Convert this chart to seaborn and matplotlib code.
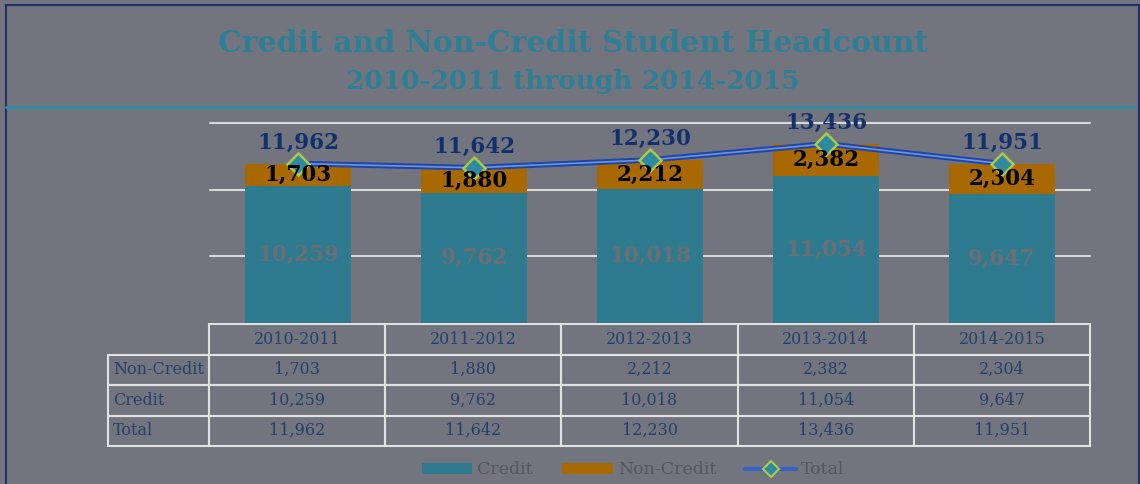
import matplotlib
matplotlib.use("Agg")
import matplotlib.pyplot as plt
import seaborn as sns
import pandas as pd
from matplotlib.patches import Rectangle, Patch
from matplotlib.lines import Line2D

years = ["2010-2011", "2011-2012", "2012-2013", "2013-2014", "2014-2015"]
non_credit = [1703, 1880, 2212, 2382, 2304]
credit = [10259, 9762, 10018, 11054, 9647]
total = [11962, 11642, 12230, 13436, 11951]
row_labels = ["Non-Credit", "Credit", "Total"]
title = "Credit and Non-Credit Student Headcount"
subtitle = "2010-2011 through 2014-2015"

BG = "#72757d"
TEAL = "#2e7b90"
ORANGE = "#a86a00"
NAVY = "#13306e"
TABLE_TXT = "#26406b"
GRID = "#d9d9d9"
SERIF = "DejaVu Serif"

sns.set_theme(style="white")
plt.rcParams["font.family"] = [SERIF, "DejaVu Sans"]

W, H = 1140, 484
fig = plt.figure(figsize=(W / 100, H / 100), dpi=100, facecolor=BG)

def fx(px):
    return px / W

def fy(py):
    return 1 - py / H

# axes: x 210..1090, y 123..323
ax = fig.add_axes([fx(210), fy(323), fx(880), (323 - 123) / H])
ax.set_facecolor(BG)

df = pd.DataFrame({"year": years, "credit": credit, "non_credit": non_credit, "total": total})

sns.barplot(data=df, x="year", y="credit", color=TEAL, width=0.6, saturation=1,
            ax=ax, zorder=2, edgecolor="none")
sns.barplot(data=df, x="year", y="non_credit", bottom=df["credit"], color=ORANGE, width=0.6,
            saturation=1, ax=ax, zorder=2, edgecolor="none")
xs = list(range(len(years)))
sns.lineplot(x=xs, y=total, ax=ax, color="#1d46a8", lw=4, zorder=4, sort=False)
sns.lineplot(x=xs, y=total, ax=ax, color="#6f93dc", lw=1.2, zorder=5, sort=False,
             marker="D", markersize=11, markerfacecolor="#2e8aa0",
             markeredgecolor="#a9c94a", markeredgewidth=1.8)

ax.set_ylim(0, 15000)
ax.set_xlim(-0.5, 4.5)
for v in (5000, 10000, 15000):
    ax.axhline(v, color=GRID, lw=1.5, zorder=1, clip_on=False)
for s in ax.spines.values():
    s.set_visible(False)
ax.set_xticks([])
ax.set_yticks([])
ax.set_xlabel("")
ax.set_ylabel("")

lab = dict(fontsize=15.5, fontweight="bold", ha="center", va="center", family=SERIF)
for i in xs:
    ax.text(i, credit[i] / 2, f"{credit[i]:,}", color="#6b6e75", zorder=6, **lab)
    ax.text(i, credit[i] + non_credit[i] / 2, f"{non_credit[i]:,}", color="black", zorder=6, **lab)
    ax.annotate(f"{total[i]:,}", (i, total[i]), xytext=(0, 15), textcoords="offset points",
                color=NAVY, zorder=6, **lab)

# data table
cell_text = [[""] + years]
for name, vals in zip(row_labels, [non_credit, credit, total]):
    cell_text.append([name] + [f"{v:,}" for v in vals])
tx0 = (108 - 210) / 880
tw = (1090 - 108) / 880
ty_top = (323 - 324) / 200
ty_bot = (323 - 446) / 200
col_w = [101] + [176] * 5
tbl = ax.table(cellText=cell_text, colWidths=[c / sum(col_w) for c in col_w],
               bbox=[tx0, ty_bot, tw, ty_top - ty_bot], cellLoc="center")
tbl.auto_set_font_size(False)
for (r, c), cell in tbl.get_celld().items():
    cell.set_facecolor("none")
    cell.set_edgecolor("#e2e2e2")
    cell.set_linewidth(1.5)
    t = cell.get_text()
    t.set_color(TABLE_TXT)
    t.set_fontsize(11.5)
    t.set_family(SERIF)
    if c == 0:
        t.set_ha("left")
        cell.PAD = 0.05
    if r == 0 and c == 0:
        cell.visible_edges = ""

# titles
fig.text(fx(573), fy(43), title, ha="center", va="center", fontsize=21.5,
         fontweight="bold", color="#2e7f95", family=SERIF)
fig.text(fx(573), fy(82), subtitle, ha="center", va="center", fontsize=19,
         fontweight="bold", color="#2e7f95", family=SERIF)

# header rule and border
fig.add_artist(Line2D([fx(6), fx(1134)], [fy(107), fy(107)], color="#2f8ca3", lw=2.2))
fig.add_artist(Rectangle((fx(6), fy(600)), fx(1133), (600 - 5) / H, fill=False,
                         edgecolor="#1f2f6b", lw=1.5))

# legend
handles = [
    Patch(facecolor=TEAL, edgecolor="none", label="Credit"),
    Patch(facecolor=ORANGE, edgecolor="none", label="Non-Credit"),
    Line2D([], [], color="#3562c4", lw=3, marker="D", markersize=8,
           markerfacecolor="#2e8aa0", markeredgecolor="#a9c94a", markeredgewidth=1.5,
           label="Total"),
]
leg = fig.legend(handles=handles, loc="center", bbox_to_anchor=(fx(633), fy(470)), ncol=3,
                 frameon=False, fontsize=12.5, handlelength=2.9, handleheight=0.6,
                 columnspacing=1.7, handletextpad=0.3)
for t in leg.get_texts():
    t.set_color("#55575c")
    t.set_family(SERIF)

fig.savefig("out.png", dpi=100, facecolor=BG)
